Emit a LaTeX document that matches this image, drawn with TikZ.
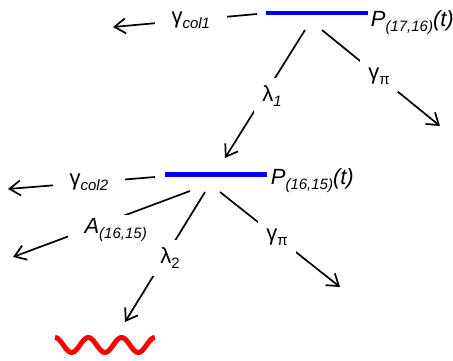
\documentclass[tikz,border=0pt]{standalone}
\usepackage{fontspec}
\setmainfont{Liberation Sans}
\usetikzlibrary{arrows.meta}
\newcommand{\lowsub}[1]{\raisebox{-5pt}{\fontsize{15pt}{15pt}\selectfont #1}}

\begin{document}
\begin{tikzpicture}[x=1pt, y=-1pt, line width=1.7pt, >={Straight Barb[length=11pt, width=15pt]},
        font=\fontsize{22pt}{24pt}\selectfont,
        level/.style={fill=blue, inner sep=0pt, minimum height=4.5pt},
        sidelab/.style={fill=white, inner xsep=17pt, inner ysep=3pt},
        slantlab/.style={fill=white, inner sep=8pt}]
        \useasboundingbox (0,0) rectangle (453,360);

        % upper level
        \node[level, minimum width=102pt] (L1) at (317,13) {};
        \node[anchor=base west, inner sep=0pt] (P1) at (370,26) {\itshape P\lowsub{(17,16)}(t)};
        \coordinate (c1) at (257,14);  \coordinate (e1) at (113,27);
        \coordinate (c2) at (305,30);  \coordinate (e2) at (225,158);
        \coordinate (c3) at (322,30);  \coordinate (e3) at (440,126);

        \draw[->] (c1) -- node[sidelab, pos=0.46] (gcol1) {γ\lowsub{\itshape col1}} (e1);
        \draw[->] (c2) -- node[slantlab, xshift=7pt, yshift=-2pt] (lam1) {λ\lowsub{\itshape 1}} (e2);
        \draw[->] (c3) -- node[slantlab, xshift=-2pt, yshift=2pt] (gpi1) {γ\lowsub{π}} (e3);

        % lower level
        \node[level, minimum width=102pt] (L2) at (216,174.5) {};
        \node[anchor=base west, inner sep=0pt] (P2) at (270,184) {\itshape P\lowsub{(16,15)}(t)};
        \coordinate (c4) at (155,177); \coordinate (e4) at (8,189);
        \coordinate (c5) at (190,191); \coordinate (e5) at (13,257);
        \coordinate (c6) at (205,192); \coordinate (e6) at (125,322);
        \coordinate (c7) at (220,192); \coordinate (e7) at (340,287);

        \draw[->] (c4) -- node[sidelab, pos=0.45] (gcol2) {γ\lowsub{\itshape col2}} (e4);
        \draw[->] (c5) -- node[sidelab, pos=0.42, yshift=-11pt] (A2) {\itshape A\lowsub{(16,15)}} (e5);
        \draw[->] (c6) -- node[slantlab, xshift=5pt, yshift=-1pt] (lam2) {λ\lowsub{2}} (e6);
        \draw[->] (c7) -- node[slantlab, xshift=-3pt, yshift=2pt] (gpi2) {γ\lowsub{π}} (e7);

        % emitted photon
        \draw[red, line width=5pt] plot[smooth, domain=0:3, samples=61] ({55+33.3*\x}, {345-7.5*cos(360*\x)});
\end{tikzpicture}
\end{document}
